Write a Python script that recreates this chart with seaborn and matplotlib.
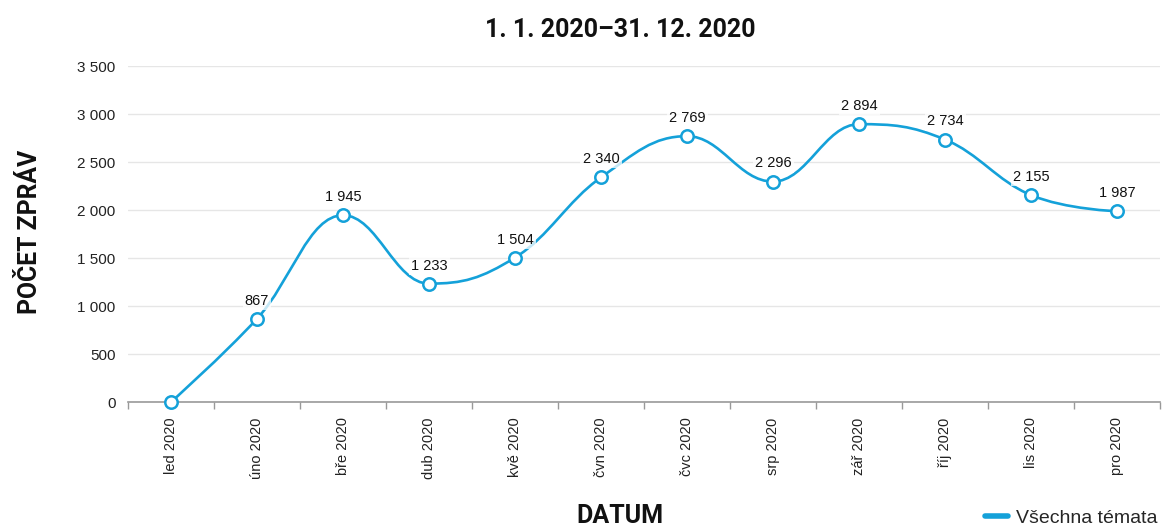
import numpy as np
import pandas as pd
import matplotlib
matplotlib.use("Agg")
import matplotlib.pyplot as plt
from matplotlib.path import Path
from matplotlib.patches import PathPatch
from matplotlib.lines import Line2D
import seaborn as sns

months = ["led 2020", "úno 2020", "bře 2020", "dub 2020", "kvě 2020", "čvn 2020",
          "čvc 2020", "srp 2020", "zář 2020", "říj 2020", "lis 2020", "pro 2020"]
counts = [0, 867, 1945, 1233, 1504, 2340, 2769, 2296, 2894, 2734, 2155, 1987]
series_name = "Všechna témata"
title = "1. 1. 2020–31. 12. 2020"
ylabel = "POČET ZPRÁV"
xlabel = "DATUM"
yticks = [0, 500, 1000, 1500, 2000, 2500, 3000, 3500]

COLOR = "#14a1d9"

sns.set_theme(style="white")
plt.rcParams['font.family'] = ['Liberation Sans', 'DejaVu Sans']

df = pd.DataFrame({"month": months, "count": counts, "idx": np.arange(len(months))})

fig = plt.figure(figsize=(11.63, 5.26), dpi=100)
ax = fig.add_axes([128/1163, 1-402/526, (1160-128)/1163, (402-66)/526])

# Highcharts-like spline control points (in data coordinates)
xs = df["idx"].to_numpy(dtype=float)
ys = df["count"].to_numpy(dtype=float)
n = len(xs)
sm = 1.5
den = sm + 1
lc = [(xs[i], ys[i]) for i in range(n)]
rc = [(xs[i], ys[i]) for i in range(n)]
for i in range(1, n - 1):
    lx = (sm * xs[i] + xs[i-1]) / den
    ly = (sm * ys[i] + ys[i-1]) / den
    rx = (sm * xs[i] + xs[i+1]) / den
    ry = (sm * ys[i] + ys[i+1]) / den
    corr = ((ry - ly) * (rx - xs[i])) / (rx - lx) + ys[i] - ry
    ly += corr
    ry += corr
    if ly > ys[i-1] and ly > ys[i]:
        ly = max(ys[i-1], ys[i]); ry = 2 * ys[i] - ly
    elif ly < ys[i-1] and ly < ys[i]:
        ly = min(ys[i-1], ys[i]); ry = 2 * ys[i] - ly
    if ry > ys[i+1] and ry > ys[i]:
        ry = max(ys[i+1], ys[i]); ly = 2 * ys[i] - ry
    elif ry < ys[i+1] and ry < ys[i]:
        ry = min(ys[i+1], ys[i]); ly = 2 * ys[i] - ry
    lc[i] = (lx, ly)
    rc[i] = (rx, ry)

verts = [(xs[0], ys[0])]
codes = [Path.MOVETO]
for i in range(1, n):
    verts += [rc[i-1], lc[i], (xs[i], ys[i])]
    codes += [Path.CURVE4] * 3
ax.add_patch(PathPatch(Path(verts, codes), facecolor="none", edgecolor=COLOR,
                       lw=1.9, zorder=3, capstyle="round", joinstyle="round"))

sns.scatterplot(data=df, x="idx", y="count", ax=ax, s=80, color="white",
                edgecolor=COLOR, linewidth=1.8, zorder=5, legend=False, clip_on=False)

for x, y in zip(xs, ys):
    if y > 0:
        lab = f"{int(y):,}".replace(",", " ")
        ax.annotate(lab, (x, y), xytext=(0, 8), textcoords="offset points",
                    ha="center", va="bottom", fontsize=10.5, color="#111111", zorder=4,
                    bbox=dict(boxstyle="square,pad=0.15", fc="white", ec="none", alpha=0.75))

ax.set_xlim(-0.5, n - 0.5)
ax.set_ylim(0, 3500)
ax.set_yticks(yticks)
ax.set_yticklabels([f"{v:,}".replace(",", " ") for v in yticks], fontsize=11, color="#222222")
ax.set_xticks(xs)
ax.set_xticklabels(months, rotation=90, fontsize=10.5, color="#222222")
ax.set_xticks(np.arange(-0.5, n, 1.0), minor=True)
ax.tick_params(axis="x", which="major", length=0, pad=11)
ax.tick_params(axis="x", which="minor", length=5, color="#999999", width=1, direction="out", bottom=True)
ax.tick_params(axis="y", length=0, pad=9)
ax.grid(axis="y", color="#e6e6e6", lw=1)
ax.set_axisbelow(True)
for s in ["top", "right", "left"]:
    ax.spines[s].set_visible(False)
ax.spines["bottom"].set_color("#999999")
ax.spines["bottom"].set_linewidth(1.2)
ax.set_xlabel("")
ax.set_ylabel("")

fig.text(620/1163, 1-30/526, title, ha="center", va="center", fontsize=18,
         fontweight="bold", family=["Roboto", "DejaVu Sans"], color="#111111")
fig.text(30/1163, 1-232/526, ylabel, ha="center", va="center", rotation=90, fontsize=17.8,
         fontweight="bold", family=["Roboto", "DejaVu Sans"], color="#111111")
fig.text(620/1163, 1-516/526, xlabel, ha="center", va="center", fontsize=18,
         fontweight="bold", family=["Roboto", "DejaVu Sans"], color="#111111")

handle = Line2D([], [], color=COLOR, lw=4)
fig.legend([handle], [series_name], loc="center left", bbox_to_anchor=(977/1163, 1-518/526),
           frameon=False, fontsize=14, handlelength=1.2, handletextpad=0.4, borderaxespad=0)

fig.savefig("out.png", dpi=100)
